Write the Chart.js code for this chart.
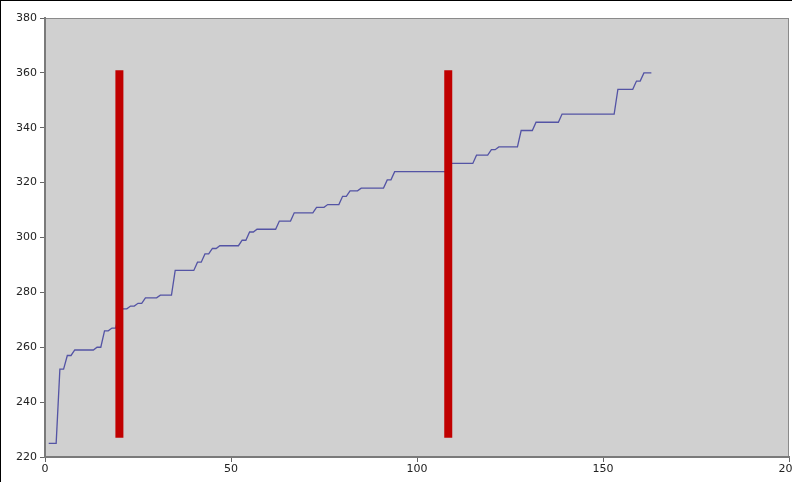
<!DOCTYPE html>
<html>
<head>
<meta charset="utf-8">
<script src="https://cdn.jsdelivr.net/npm/chart.js@4.4.0/dist/chart.umd.min.js"></script>
<style>
    html, body { margin: 0; padding: 0; background: #fff; overflow: hidden; }
    #wrap { position: relative; width: 792px; height: 482px; overflow: hidden; }
    #chart { position: absolute; left: 0; top: 0; }
    #frame { position: absolute; left: 0; top: 0; width: 792px; height: 482px;
             border-top: 1px solid #000; border-left: 1px solid #000;
             box-sizing: border-box; pointer-events: none; }
</style>
</head>
<body>
<div id="wrap">
    <canvas id="chart" width="830" height="482" style="width:830px;height:482px"></canvas>
    <div id="frame"></div>
</div>
<script>
// --- dữ liệu ---
// giá trị cho x = 1, 2, 3, ...
const seriesValues = [
    225, 225, 225, 252, 252, 257, 257, 259, 259, 259,
    259, 259, 259, 260, 260, 266, 266, 267, 267, 273,
    274, 274, 275, 275, 276, 276, 278, 278, 278, 278,
    279, 279, 279, 279, 288, 288, 288, 288, 288, 288,
    291, 291, 294, 294, 296, 296, 297, 297, 297, 297,
    297, 297, 299, 299, 302, 302, 303, 303, 303, 303,
    303, 303, 306, 306, 306, 306, 309, 309, 309, 309,
    309, 309, 311, 311, 311, 312, 312, 312, 312, 315,
    315, 317, 317, 317, 318, 318, 318, 318, 318, 318,
    318, 321, 321, 324, 324, 324, 324, 324, 324, 324,
    324, 324, 324, 324, 324, 324, 324, 324, 327, 327,
    327, 327, 327, 327, 327, 330, 330, 330, 330, 332,
    332, 333, 333, 333, 333, 333, 333, 339, 339, 339,
    339, 342, 342, 342, 342, 342, 342, 342, 345, 345,
    345, 345, 345, 345, 345, 345, 345, 345, 345, 345,
    345, 345, 345, 354, 354, 354, 354, 354, 357, 357,
    360, 360, 360
];
const markerX = [20, 108.4];
const markerLow = 227;
const markerHigh = 361;
const xTicks = [0, 50, 100, 150, 200];
const yTicks = [220, 240, 260, 280, 300, 320, 340, 360, 380];

const linePoints = seriesValues.map((v, i) => ({ x: i + 1, y: v }));

const markerSets = markerX.map(x => ({
    type: 'line',
    data: [{ x: x, y: markerLow }, { x: x, y: markerHigh }],
    borderColor: '#c00000',
    borderWidth: 8,
    borderCapStyle: 'butt',
    pointRadius: 0,
    fill: false,
    order: 1
}));

// nền xám + khung vùng vẽ
const plotBg = {
    id: 'plotBg',
    beforeDraw(chart) {
        const a = chart.chartArea, c = chart.ctx;
        c.save();
        c.fillStyle = '#d0d0d0';
        c.fillRect(a.left, a.top, a.right - a.left, a.bottom - a.top);
        c.strokeStyle = '#8a8a8a';
        c.lineWidth = 1;
        c.strokeRect(a.left + 0.5, a.top + 0.5, a.right - a.left - 1, a.bottom - a.top);
        c.restore();
    }
};

const tickFont = { family: 'DejaVu Sans', size: 11 };

new Chart(document.getElementById('chart'), {
    type: 'line',
    data: {
        datasets: [{
            data: linePoints,
            borderColor: 'rgba(70, 70, 160, 0.9)',
            borderWidth: 1.3,
            pointRadius: 0,
            tension: 0,
            fill: false,
            order: 2
        }].concat(markerSets)
    },
    options: {
        responsive: false,
        animation: false,
        layout: { padding: { top: 18, right: 41, left: 0, bottom: 0 } },
        plugins: { legend: { display: false }, tooltip: { enabled: false } },
        scales: {
            x: {
                type: 'linear',
                min: 0,
                max: 200,
                afterBuildTicks: s => { s.ticks = xTicks.map(v => ({ value: v })); },
                afterFit: s => { s.height = 25; },
                grid: { drawOnChartArea: false, tickLength: 5, tickColor: '#666' },
                border: { display: true, color: '#7a7a7a', width: 2 },
                ticks: { font: tickFont, color: '#222', padding: 1, maxRotation: 0 }
            },
            y: {
                min: 220,
                max: 380,
                afterBuildTicks: s => { s.ticks = yTicks.map(v => ({ value: v })); },
                afterFit: s => { s.width = 45; },
                grid: { drawOnChartArea: false, tickLength: 5, tickColor: '#666' },
                border: { display: true, color: '#7a7a7a', width: 2 },
                ticks: { font: tickFont, color: '#222', padding: 3 }
            }
        }
    },
    plugins: [plotBg]
});
</script>
</body>
</html>
